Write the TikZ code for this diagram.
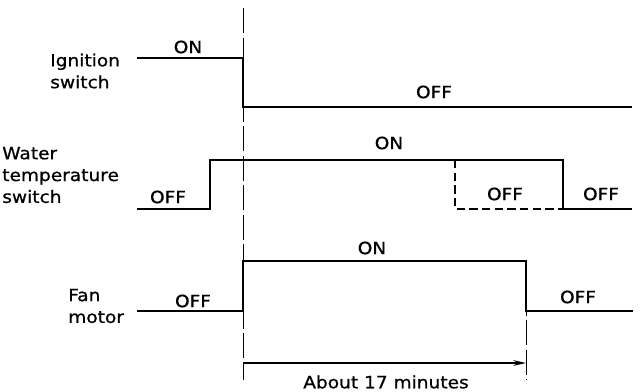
\documentclass[tikz,border=0pt]{standalone}
\usepackage{fontspec}
\setmainfont[FakeStretch=1.1, FakeBold=0.8]{DejaVu Sans}
\usetikzlibrary{arrows.meta}

\begin{document}
\begin{tikzpicture}[x=0.025cm, y=-0.025cm,
      every node/.style={font=\fontsize{12}{15.5}\selectfont, inner sep=0pt},
      signal/.style={line width=1.5pt},
      altpath/.style={line width=1.3pt, dash pattern=on 6pt off 3pt},
      guide/.style={line width=0.7pt, dash pattern=on 18pt off 3pt}]
    \useasboundingbox (0,0) rectangle (641,392);

    % row labels -- left-aligned blocks, widths follow the text
    \node[align=left, anchor=west] (IGlabel) at (50,71) {Ignition\\switch};
    \node[align=left, anchor=west] (WTlabel) at (2,175) {Water\\temperature\\switch};
    \node[align=left, anchor=west] (FNlabel) at (68,306) {Fan\\motor};

    % corners of the three waveforms
    \coordinate (IGstart) at (137,58);
    \coordinate (IGfall)  at (243,58);
    \coordinate (IGend)   at (632,107);
    \coordinate (WTstart) at (137,209);
    \coordinate (WTrise)  at (210,209);
    \coordinate (WTalt)   at (455,160);
    \coordinate (WTfall)  at (563,160);
    \coordinate (WTend)   at (632,209);
    \coordinate (FNstart) at (137,311);
    \coordinate (FNrise)  at (243,311);
    \coordinate (FNfall)  at (526,261);
    \coordinate (FNend)   at (633,311);

    % guide lines and the duration arrow
    \coordinate (G1top) at (243,8);
    \coordinate (G1bot) at (243,380);
    \coordinate (G2bot) at (526,380);
    \coordinate (Dstart) at (243,363);
    \coordinate (Dend)   at (526,363);
    \draw[guide] (G1top) -- (G1bot);
    \draw[guide] (FNfall) -- (G2bot);
    \draw[-{Stealth[length=9pt, width=4pt]}, line width=0.9pt] (Dstart) -- (Dend);

    % ignition switch
    \draw[signal] (IGstart) -- (IGfall) |- (IGend);
    \node (IGon)  at (188,47) {ON};
    \node (IGoff) at (434,92) {OFF};

    % water temperature switch (dashed: earlier switch-off)
    \draw[signal] (WTstart) -- (WTrise) |- (WTfall) |- (WTend);
    \draw[altpath] (WTalt) |- (WTfall |- WTend);
    \node (WToffA) at (168,197) {OFF};
    \node (WTon)   at (389,143) {ON};
    \node (WToffB) at (505,194) {OFF};
    \node (WToffC) at (601,194) {OFF};

    % fan motor
    \draw[signal] (FNstart) -- (FNrise) |- (FNfall) |- (FNend);
    \node (FNoffA) at (193,301) {OFF};
    \node (FNon)   at (372,248) {ON};
    \node (FNoffB) at (578,297) {OFF};

    \node (Dlabel) at (386,382) {About 17 minutes};
  \end{tikzpicture}
\end{document}
